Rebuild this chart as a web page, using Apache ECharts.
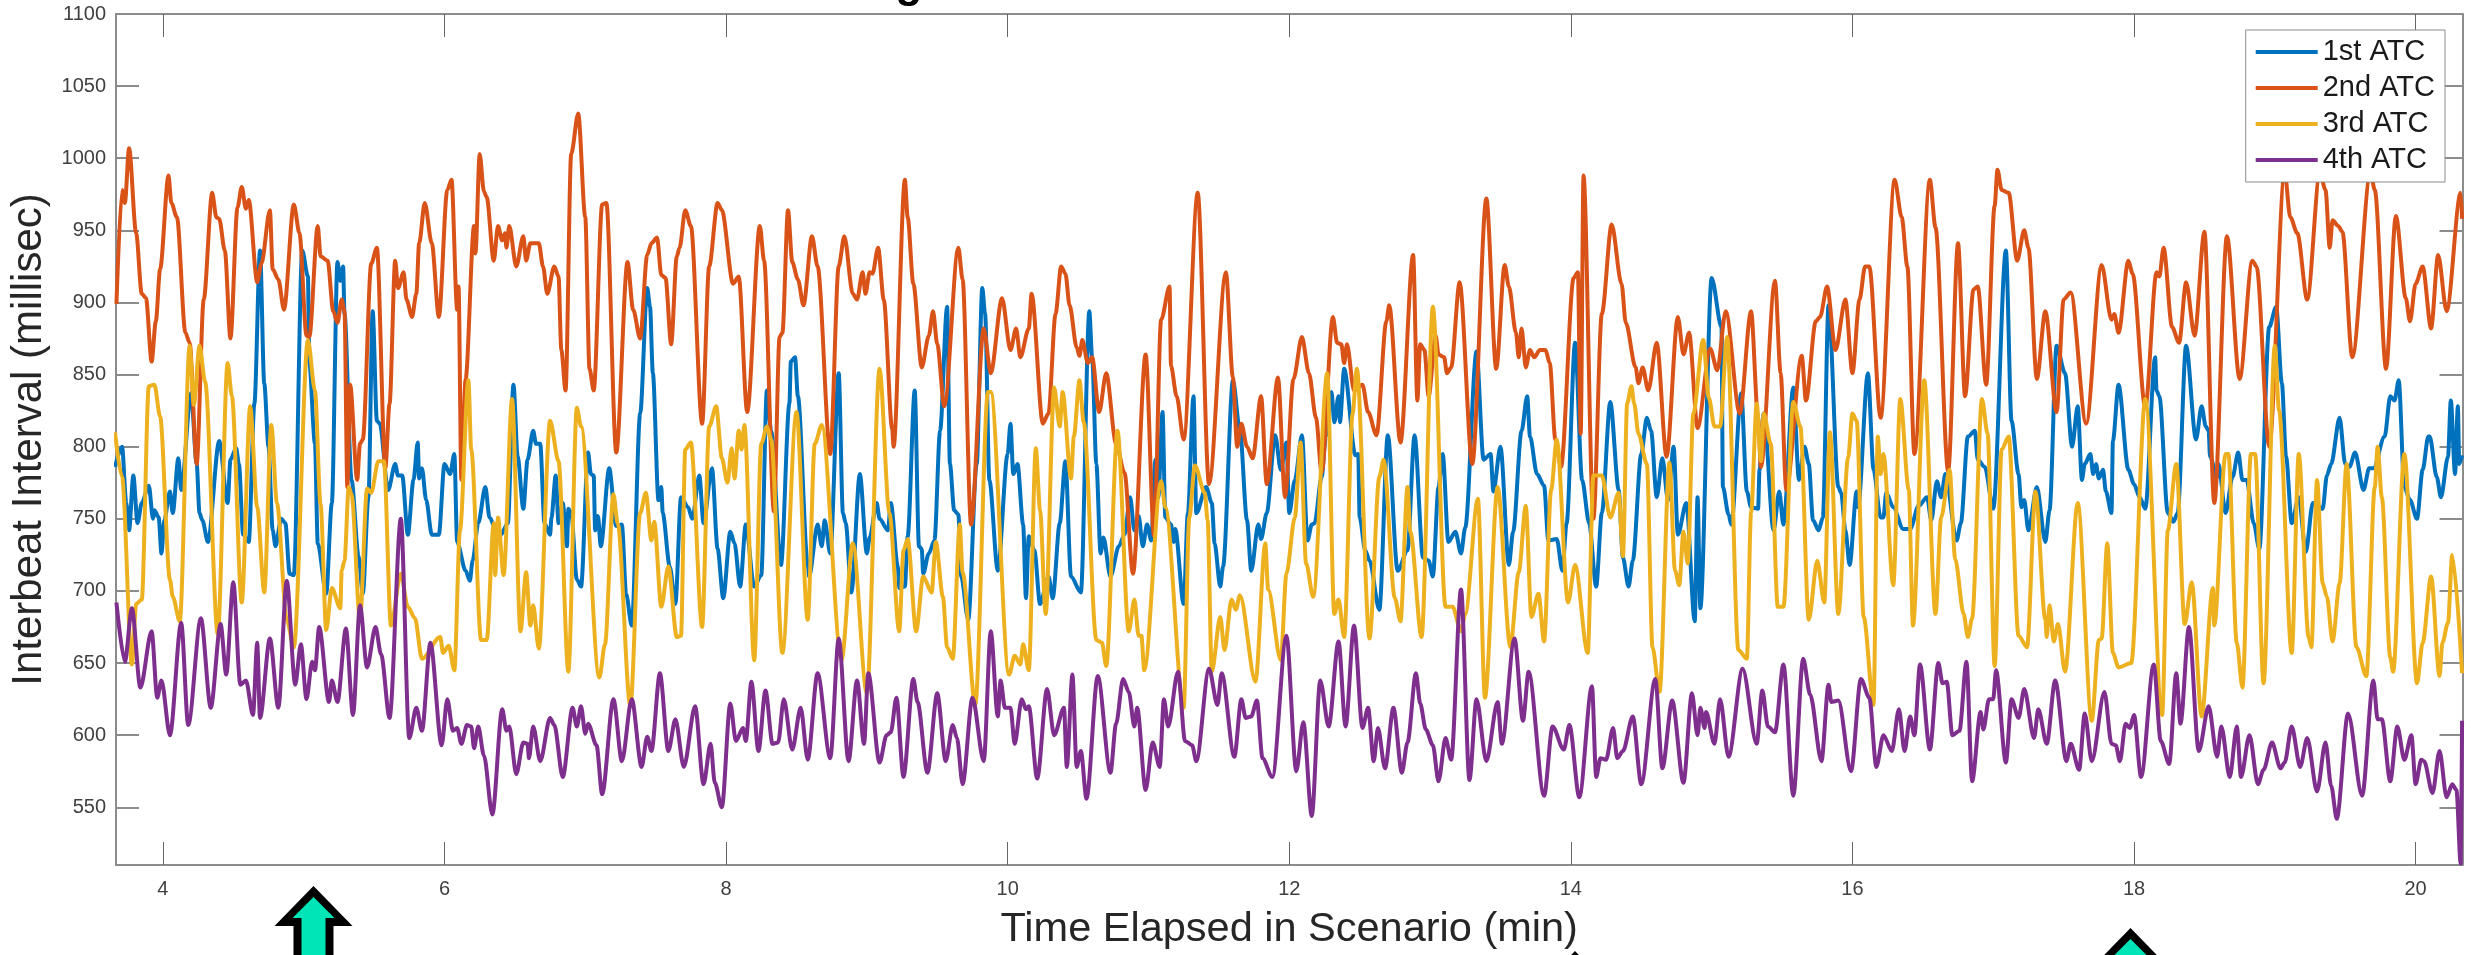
<!DOCTYPE html>
<html>
<head>
<meta charset="utf-8">
<title>Interbeat Interval</title>
<script src="https://cdn.jsdelivr.net/npm/echarts@6/dist/echarts.min.js"></script>
<style>
  html,body{margin:0;padding:0;background:#fff;}
  #chart{width:2471px;height:955px;}
</style>
</head>
<body>
<div id="chart"></div>
<script>
const xTicks = [4,6,8,10,12,14,16,18,20];
const yTicks = [550,600,650,700,750,800,850,900,950,1000,1050,1100];
const seriesNames = ['1st ATC','2nd ATC','3rd ATC','4th ATC'];

// [minutes, millisec] at each turn of the trace
const atc1 = [[3.66,786],[3.71,800],[3.74,761],[3.76,742],[3.79,780],[3.82,747],[3.85,761],[3.90,773],[3.93,750],[3.94,756],[3.97,751],[3.99,726],[4.01,749],[4.05,769],[4.07,754],[4.11,792],[4.13,770],[4.20,837],[4.24,788],[4.26,754],[4.28,749],[4.32,734],[4.40,804],[4.46,761],[4.48,791],[4.52,799],[4.54,788],[4.57,739],[4.61,734],[4.65,830],[4.69,936],[4.72,844],[4.75,800],[4.78,742],[4.80,731],[4.84,750],[4.87,747],[4.90,712],[4.93,711],[4.99,936],[5.03,918],[5.04,858],[5.08,802],[5.10,733],[5.16,698],[5.20,761],[5.24,928],[5.26,915],[5.28,925],[5.29,892],[5.34,777],[5.39,724],[5.42,698],[5.46,765],[5.49,894],[5.52,818],[5.54,816],[5.60,770],[5.65,788],[5.67,780],[5.70,780],[5.74,739],[5.78,777],[5.81,803],[5.82,778],[5.84,785],[5.87,763],[5.91,739],[5.96,739],[6.00,788],[6.04,781],[6.07,795],[6.09,734],[6.15,714],[6.18,707],[6.20,721],[6.24,747],[6.29,772],[6.32,751],[6.36,744],[6.40,739],[6.45,747],[6.49,843],[6.52,793],[6.56,757],[6.59,791],[6.63,811],[6.65,802],[6.68,802],[6.71,747],[6.75,739],[6.76,751],[6.79,780],[6.81,747],[6.84,761],[6.87,731],[6.88,757],[6.90,754],[6.94,708],[6.97,703],[7.02,796],[7.04,781],[7.06,780],[7.07,742],[7.09,752],[7.11,731],[7.17,785],[7.22,745],[7.26,746],[7.29,698],[7.33,676],[7.39,823],[7.44,910],[7.46,897],[7.48,851],[7.52,763],[7.54,772],[7.55,754],[7.60,717],[7.64,691],[7.68,765],[7.73,758],[7.76,750],[7.81,780],[7.84,747],[7.90,785],[7.94,729],[7.98,695],[8.03,741],[8.06,733],[8.10,703],[8.14,746],[8.20,703],[8.25,711],[8.29,839],[8.32,811],[8.39,718],[8.45,830],[8.46,859],[8.49,862],[8.51,835],[8.58,719],[8.59,710],[8.65,746],[8.68,731],[8.70,749],[8.74,726],[8.80,851],[8.83,754],[8.85,747],[8.89,699],[8.95,781],[9.00,726],[9.02,737],[9.07,761],[9.09,750],[9.15,742],[9.17,761],[9.22,717],[9.23,702],[9.27,703],[9.29,738],[9.34,839],[9.37,731],[9.39,729],[9.40,712],[9.44,726],[9.48,735],[9.52,811],[9.57,897],[9.59,788],[9.62,756],[9.65,753],[9.67,710],[9.72,680],[9.78,788],[9.82,910],[9.84,892],[9.87,777],[9.93,714],[10.00,795],[10.02,816],[10.04,781],[10.07,788],[10.11,746],[10.13,695],[10.15,738],[10.19,728],[10.23,691],[10.29,710],[10.32,695],[10.37,747],[10.41,790],[10.45,710],[10.52,699],[10.58,894],[10.60,862],[10.63,788],[10.66,726],[10.68,737],[10.73,710],[10.79,731],[10.83,739],[10.87,765],[10.90,742],[10.93,752],[10.96,731],[10.99,746],[11.02,735],[11.05,791],[11.07,765],[11.10,824],[11.12,751],[11.16,746],[11.18,734],[11.19,743],[11.25,691],[11.28,754],[11.32,835],[11.34,754],[11.41,772],[11.45,761],[11.47,733],[11.51,703],[11.53,717],[11.60,846],[11.65,811],[11.70,749],[11.73,714],[11.78,746],[11.80,736],[11.84,754],[11.90,808],[11.94,784],[11.98,803],[12.00,754],[12.04,777],[12.09,808],[12.13,735],[12.16,746],[12.18,747],[12.23,779],[12.26,807],[12.30,838],[12.32,817],[12.35,835],[12.36,817],[12.39,854],[12.47,794],[12.49,795],[12.50,751],[12.54,728],[12.57,721],[12.64,687],[12.70,808],[12.77,714],[12.84,728],[12.89,808],[12.95,723],[12.99,721],[13.02,710],[13.06,772],[13.09,795],[13.13,734],[13.18,741],[13.22,726],[13.25,744],[13.33,866],[13.38,791],[13.43,795],[13.45,769],[13.50,800],[13.56,718],[13.59,741],[13.65,811],[13.69,835],[13.71,807],[13.76,781],[13.81,773],[13.84,735],[13.90,736],[13.94,714],[13.97,747],[14.03,872],[14.08,777],[14.13,747],[14.18,703],[14.22,754],[14.28,831],[14.34,770],[14.37,723],[14.41,703],[14.44,721],[14.50,795],[14.54,820],[14.57,811],[14.61,765],[14.65,792],[14.69,763],[14.73,800],[14.76,739],[14.82,761],[14.88,679],[14.90,765],[14.92,688],[15.00,917],[15.07,883],[15.08,772],[15.12,753],[15.14,746],[15.21,837],[15.25,769],[15.28,758],[15.33,757],[15.34,784],[15.37,823],[15.44,742],[15.48,769],[15.51,746],[15.58,841],[15.62,777],[15.66,800],[15.69,788],[15.72,749],[15.76,742],[15.79,751],[15.83,898],[15.90,772],[15.92,768],[15.95,742],[15.98,718],[16.03,769],[16.04,758],[16.11,851],[16.15,784],[16.20,751],[16.22,751],[16.24,768],[16.29,758],[16.36,743],[16.41,743],[16.47,759],[16.53,765],[16.56,749],[16.60,776],[16.63,765],[16.66,781],[16.74,735],[16.77,747],[16.82,807],[16.87,811],[16.89,791],[16.94,786],[17.00,757],[17.09,936],[17.13,818],[17.18,781],[17.20,758],[17.22,763],[17.25,742],[17.31,772],[17.37,734],[17.40,756],[17.45,870],[17.51,851],[17.56,800],[17.60,828],[17.63,777],[17.65,788],[17.69,795],[17.71,781],[17.73,788],[17.75,778],[17.78,784],[17.80,769],[17.84,754],[17.85,804],[17.89,843],[17.96,784],[18.00,774],[18.04,765],[18.08,757],[18.15,862],[18.16,839],[18.18,835],[18.24,754],[18.28,748],[18.31,754],[18.37,870],[18.44,805],[18.48,828],[18.51,814],[18.53,811],[18.54,793],[18.59,779],[18.60,788],[18.65,754],[18.70,779],[18.74,796],[18.77,777],[18.80,777],[18.85,747],[18.89,729],[18.96,883],[19.01,897],[19.05,844],[19.08,793],[19.12,747],[19.17,765],[19.22,727],[19.27,761],[19.34,757],[19.37,780],[19.40,788],[19.46,820],[19.50,788],[19.53,786],[19.57,796],[19.63,770],[19.67,785],[19.70,785],[19.78,807],[19.82,835],[19.85,832],[19.88,846],[19.92,772],[19.96,763],[20.01,750],[20.05,784],[20.09,807],[20.10,807],[20.15,779],[20.18,765],[20.23,793],[20.25,832],[20.28,781],[20.30,828],[20.31,788],[20.33,794]];

const atc2 = [[3.67,899],[3.71,978],[3.73,969],[3.76,1007],[3.81,948],[3.85,906],[3.88,903],[3.92,859],[3.95,887],[3.98,923],[4.04,988],[4.06,969],[4.10,959],[4.16,879],[4.19,872],[4.24,788],[4.29,902],[4.35,976],[4.38,959],[4.40,958],[4.44,936],[4.48,875],[4.53,966],[4.56,980],[4.59,965],[4.61,971],[4.67,914],[4.70,927],[4.76,964],[4.78,923],[4.82,916],[4.86,895],[4.93,968],[4.97,948],[5.02,877],[5.04,876],[5.10,953],[5.12,932],[5.17,929],[5.21,894],[5.24,886],[5.27,902],[5.29,894],[5.31,772],[5.33,843],[5.38,777],[5.40,802],[5.42,805],[5.48,927],[5.52,938],[5.58,785],[5.61,830],[5.65,929],[5.67,910],[5.71,921],[5.73,902],[5.77,890],[5.80,906],[5.82,941],[5.86,969],[5.91,941],[5.96,890],[6.02,978],[6.05,985],[6.09,895],[6.10,911],[6.12,777],[6.15,847],[6.21,953],[6.22,934],[6.25,1003],[6.28,977],[6.30,973],[6.35,929],[6.38,953],[6.41,943],[6.43,948],[6.44,938],[6.46,953],[6.51,925],[6.56,946],[6.58,929],[6.61,941],[6.67,941],[6.70,925],[6.73,906],[6.78,925],[6.81,918],[6.83,867],[6.86,839],[6.90,1003],[6.95,1031],[7.00,959],[7.03,854],[7.06,839],[7.12,968],[7.15,969],[7.22,796],[7.30,928],[7.34,895],[7.39,875],[7.44,933],[7.47,941],[7.51,945],[7.54,919],[7.57,917],[7.61,871],[7.65,932],[7.67,938],[7.71,964],[7.75,953],[7.83,816],[7.88,925],[7.94,969],[7.97,964],[8.05,913],[8.09,918],[8.15,824],[8.24,953],[8.27,929],[8.34,755],[8.38,876],[8.40,879],[8.44,964],[8.47,928],[8.51,916],[8.55,898],[8.61,946],[8.65,925],[8.74,795],[8.80,925],[8.84,946],[8.90,906],[8.93,902],[8.97,921],[8.99,906],[9.02,921],[9.04,920],[9.08,938],[9.12,902],[9.18,812],[9.19,800],[9.27,985],[9.29,959],[9.33,913],[9.39,855],[9.44,877],[9.47,894],[9.50,871],[9.55,828],[9.65,938],[9.68,916],[9.74,746],[9.83,882],[9.88,851],[9.96,903],[10.02,867],[10.06,882],[10.09,862],[10.15,882],[10.17,906],[10.25,816],[10.29,823],[10.34,892],[10.38,925],[10.41,920],[10.44,898],[10.49,869],[10.51,863],[10.53,874],[10.57,858],[10.60,862],[10.65,824],[10.70,851],[10.77,802],[10.83,782],[10.89,712],[10.98,864],[11.04,738],[11.09,888],[11.15,911],[11.16,856],[11.20,835],[11.25,805],[11.35,976],[11.43,774],[11.55,921],[11.60,848],[11.63,800],[11.66,816],[11.70,800],[11.74,792],[11.80,835],[11.84,774],[11.92,848],[11.97,765],[12.03,847],[12.09,876],[12.14,851],[12.19,820],[12.23,782],[12.31,890],[12.34,872],[12.37,871],[12.39,858],[12.41,871],[12.46,839],[12.52,843],[12.56,824],[12.62,808],[12.69,887],[12.71,898],[12.79,803],[12.88,933],[12.91,832],[12.93,871],[12.96,867],[12.99,835],[13.04,877],[13.06,864],[13.10,862],[13.12,851],[13.15,855],[13.21,914],[13.30,788],[13.40,972],[13.47,854],[13.53,926],[13.56,911],[13.61,879],[13.63,862],[13.65,882],[13.68,855],[13.71,867],[13.74,862],[13.78,867],[13.82,867],[13.85,858],[13.89,805],[13.93,786],[14.02,917],[14.05,921],[14.07,809],[14.09,988],[14.16,750],[14.22,892],[14.29,954],[14.36,913],[14.39,886],[14.46,855],[14.48,844],[14.51,855],[14.55,839],[14.61,872],[14.68,793],[14.76,890],[14.80,864],[14.84,879],[14.90,813],[14.99,868],[15.04,853],[15.10,894],[15.20,823],[15.28,894],[15.33,820],[15.35,786],[15.45,915],[15.49,851],[15.53,770],[15.64,863],[15.67,832],[15.74,887],[15.77,890],[15.82,911],[15.88,867],[15.95,902],[16.00,851],[16.05,902],[16.09,925],[16.12,925],[16.20,820],[16.30,985],[16.35,959],[16.39,925],[16.44,795],[16.55,985],[16.59,952],[16.68,783],[16.75,941],[16.80,835],[16.86,909],[16.89,911],[16.95,843],[17.01,967],[17.03,992],[17.06,978],[17.11,976],[17.17,929],[17.22,950],[17.25,938],[17.31,847],[17.37,894],[17.45,824],[17.50,902],[17.55,907],[17.66,816],[17.77,926],[17.84,888],[17.86,892],[17.89,879],[17.96,929],[17.99,920],[18.08,827],[18.16,921],[18.18,918],[18.21,938],[18.27,883],[18.32,872],[18.37,914],[18.43,877],[18.50,949],[18.57,761],[18.66,946],[18.75,847],[18.84,929],[18.87,925],[18.96,800],[19.07,990],[19.11,959],[19.16,948],[19.23,902],[19.32,990],[19.36,978],[19.39,938],[19.41,957],[19.45,953],[19.48,949],[19.55,862],[19.68,990],[19.71,978],[19.79,854],[19.86,960],[19.93,903],[19.96,887],[20.00,913],[20.05,925],[20.11,882],[20.16,933],[20.22,894],[20.32,976],[20.33,958]];

const atc3 = [[3.66,810],[3.71,779],[3.78,649],[3.81,691],[3.85,694],[3.90,842],[3.94,843],[3.98,821],[4.05,708],[4.07,696],[4.12,679],[4.19,870],[4.22,829],[4.26,870],[4.30,845],[4.39,670],[4.46,858],[4.49,835],[4.56,692],[4.62,828],[4.67,758],[4.72,699],[4.77,815],[4.81,761],[4.88,680],[4.93,661],[5.03,874],[5.08,839],[5.12,760],[5.16,673],[5.20,702],[5.26,688],[5.27,714],[5.29,721],[5.32,772],[5.34,767],[5.40,680],[5.45,771],[5.48,768],[5.53,790],[5.57,790],[5.62,676],[5.69,712],[5.74,689],[5.79,681],[5.84,653],[5.97,668],[5.99,657],[6.03,662],[6.07,645],[6.11,742],[6.17,846],[6.19,798],[6.26,666],[6.30,666],[6.35,747],[6.36,711],[6.38,751],[6.42,711],[6.48,833],[6.54,672],[6.58,713],[6.61,676],[6.63,690],[6.67,660],[6.75,818],[6.81,790],[6.88,644],[6.94,827],[6.97,814],[7.10,640],[7.14,663],[7.20,767],[7.23,747],[7.32,620],[7.39,754],[7.43,768],[7.47,735],[7.49,748],[7.54,689],[7.59,717],[7.65,668],[7.68,669],[7.71,798],[7.75,803],[7.83,675],[7.88,814],[7.93,828],[7.97,792],[8.01,775],[8.04,799],[8.06,778],[8.09,811],[8.11,798],[8.13,815],[8.20,652],[8.25,802],[8.29,814],[8.32,805],[8.40,657],[8.50,824],[8.58,680],[8.63,802],[8.68,815],[8.82,652],[8.90,733],[9.00,629],[9.09,854],[9.16,754],[9.23,672],[9.26,728],[9.29,736],[9.35,672],[9.40,710],[9.46,699],[9.49,734],[9.54,696],[9.57,661],[9.61,653],[9.66,746],[9.68,713],[9.77,621],[9.86,838],[9.88,838],[10.01,642],[10.05,655],[10.09,649],[10.11,663],[10.15,645],[10.20,799],[10.23,756],[10.27,684],[10.33,841],[10.37,814],[10.39,838],[10.45,778],[10.47,807],[10.51,846],[10.54,817],[10.63,666],[10.67,664],[10.70,648],[10.78,811],[10.86,672],[10.90,694],[10.93,669],[10.95,669],[10.97,645],[11.09,776],[11.12,758],[11.25,619],[11.29,751],[11.33,787],[11.40,768],[11.42,749],[11.45,644],[11.51,682],[11.54,659],[11.59,694],[11.62,687],[11.65,697],[11.76,637],[11.83,733],[11.85,701],[11.94,652],[11.98,712],[12.04,751],[12.08,803],[12.12,719],[12.17,696],[12.27,851],[12.32,684],[12.35,694],[12.39,668],[12.45,823],[12.48,854],[12.57,667],[12.64,779],[12.67,791],[12.75,695],[12.79,679],[12.84,772],[12.86,741],[12.94,668],[13.02,897],[13.11,689],[13.16,689],[13.22,672],[13.25,684],[13.34,764],[13.39,626],[13.48,772],[13.57,661],[13.63,713],[13.68,759],[13.72,682],[13.77,698],[13.81,665],[13.86,770],[13.90,805],[13.98,692],[14.03,718],[14.12,657],[14.16,780],[14.22,780],[14.28,751],[14.34,768],[14.37,724],[14.40,830],[14.43,842],[14.45,830],[14.48,809],[14.54,788],[14.58,661],[14.63,630],[14.70,789],[14.74,714],[14.77,704],[14.80,741],[14.83,719],[14.87,823],[14.94,874],[14.98,834],[15.02,814],[15.06,814],[15.11,876],[15.19,659],[15.25,653],[15.28,754],[15.32,830],[15.35,790],[15.37,823],[15.42,802],[15.47,689],[15.51,689],[15.58,831],[15.63,814],[15.69,680],[15.75,721],[15.80,692],[15.84,810],[15.90,684],[15.97,793],[16.00,823],[16.03,818],[16.08,682],[16.15,621],[16.18,807],[16.20,781],[16.22,795],[16.29,704],[16.34,833],[16.40,770],[16.43,676],[16.51,846],[16.59,684],[16.63,751],[16.69,784],[16.73,722],[16.79,684],[16.82,668],[16.85,681],[16.92,833],[16.96,809],[17.01,648],[17.06,798],[17.11,807],[17.18,669],[17.24,661],[17.30,769],[17.37,680],[17.38,668],[17.40,690],[17.43,665],[17.46,677],[17.51,644],[17.60,761],[17.70,610],[17.75,666],[17.77,667],[17.81,733],[17.85,657],[17.89,647],[17.98,650],[18.08,833],[18.20,614],[18.24,742],[18.30,788],[18.36,677],[18.41,706],[18.48,613],[18.56,702],[18.57,676],[18.65,795],[18.67,795],[18.73,664],[18.77,633],[18.83,795],[18.86,795],[18.92,636],[19.00,870],[19.03,825],[19.12,657],[19.17,795],[19.24,668],[19.26,661],[19.30,777],[19.34,705],[19.37,696],[19.41,665],[19.46,705],[19.51,788],[19.58,661],[19.65,641],[19.71,772],[19.73,800],[19.76,765],[19.82,654],[19.84,644],[19.92,795],[20.01,636],[20.05,664],[20.11,710],[20.17,641],[20.19,664],[20.23,678],[20.26,725],[20.33,643]];

const atc4 = [[3.67,692],[3.73,651],[3.78,688],[3.84,633],[3.92,672],[3.96,626],[3.99,638],[4.05,600],[4.13,678],[4.18,607],[4.27,681],[4.34,619],[4.41,677],[4.45,642],[4.50,706],[4.55,635],[4.59,638],[4.64,614],[4.67,664],[4.69,612],[4.76,667],[4.82,619],[4.88,707],[4.94,635],[4.98,663],[5.02,625],[5.06,651],[5.08,645],[5.11,675],[5.18,623],[5.20,638],[5.24,623],[5.30,674],[5.35,614],[5.40,690],[5.45,647],[5.51,675],[5.55,656],[5.61,612],[5.69,750],[5.75,598],[5.80,619],[5.84,603],[5.90,664],[5.98,593],[6.02,625],[6.06,603],[6.09,605],[6.12,594],[6.16,607],[6.19,606],[6.21,591],[6.24,606],[6.28,586],[6.34,545],[6.41,618],[6.44,603],[6.46,606],[6.51,573],[6.56,595],[6.59,594],[6.60,584],[6.63,606],[6.68,582],[6.75,612],[6.78,607],[6.84,571],[6.91,619],[6.94,606],[6.97,620],[7.00,601],[7.02,608],[7.08,593],[7.12,559],[7.20,625],[7.26,582],[7.33,625],[7.40,578],[7.44,599],[7.47,589],[7.53,643],[7.59,589],[7.64,611],[7.70,578],[7.78,620],[7.84,566],[7.89,594],[7.92,567],[7.97,550],[8.03,622],[8.07,596],[8.12,605],[8.14,596],[8.18,637],[8.23,589],[8.28,631],[8.33,594],[8.37,595],[8.41,625],[8.47,590],[8.53,619],[8.58,583],[8.65,643],[8.74,584],[8.80,667],[8.87,582],[8.93,638],[8.98,594],[9.01,643],[9.09,581],[9.14,600],[9.17,602],[9.21,626],[9.26,571],[9.33,639],[9.36,623],[9.43,574],[9.50,629],[9.56,582],[9.61,607],[9.64,598],[9.68,566],[9.75,626],[9.83,582],[9.88,672],[9.93,613],[9.95,638],[9.98,619],[10.02,619],[10.05,594],[10.10,625],[10.13,618],[10.15,620],[10.21,570],[10.28,632],[10.33,600],[10.40,619],[10.42,578],[10.46,642],[10.49,578],[10.52,589],[10.56,556],[10.64,641],[10.73,574],[10.77,608],[10.82,639],[10.86,630],[10.90,606],[10.92,619],[10.98,562],[11.03,595],[11.08,578],[11.11,625],[11.14,606],[11.21,644],[11.26,596],[11.31,593],[11.34,582],[11.43,646],[11.49,621],[11.52,643],[11.61,585],[11.66,625],[11.69,612],[11.73,613],[11.77,624],[11.81,584],[11.88,571],[11.98,669],[12.05,575],[12.10,609],[12.16,544],[12.22,638],[12.28,606],[12.35,665],[12.40,606],[12.46,676],[12.52,605],[12.56,619],[12.60,582],[12.63,605],[12.68,577],[12.74,619],[12.80,574],[12.84,595],[12.90,643],[12.93,622],[12.97,604],[13.02,593],[13.06,568],[13.11,598],[13.15,583],[13.22,701],[13.28,569],[13.33,625],[13.40,582],[13.48,623],[13.51,594],[13.60,667],[13.66,610],[13.70,644],[13.81,558],[13.87,606],[13.95,590],[13.99,607],[14.06,557],[14.15,634],[14.18,571],[14.21,584],[14.25,583],[14.30,605],[14.33,584],[14.37,589],[14.44,613],[14.50,566],[14.60,639],[14.65,577],[14.72,624],[14.80,567],[14.86,629],[14.90,600],[14.92,619],[14.95,605],[14.96,616],[15.02,594],[15.06,625],[15.12,585],[15.22,646],[15.32,594],[15.36,631],[15.40,606],[15.45,602],[15.51,649],[15.58,558],[15.65,653],[15.70,628],[15.78,582],[15.83,635],[15.85,623],[15.90,624],[15.99,575],[16.06,639],[16.12,626],[16.17,578],[16.22,600],[16.28,589],[16.33,618],[16.37,589],[16.41,613],[16.44,600],[16.48,649],[16.55,590],[16.61,650],[16.64,636],[16.67,637],[16.71,600],[16.76,603],[16.81,651],[16.85,568],[16.91,616],[16.93,604],[16.97,625],[17.00,625],[17.02,645],[17.09,581],[17.13,625],[17.18,612],[17.22,632],[17.29,598],[17.32,618],[17.38,594],[17.44,638],[17.52,582],[17.55,594],[17.61,576],[17.65,615],[17.70,582],[17.79,630],[17.84,594],[17.87,593],[17.90,582],[17.94,608],[17.97,605],[18.00,614],[18.05,571],[18.14,649],[18.19,596],[18.25,580],[18.30,643],[18.33,608],[18.39,675],[18.46,589],[18.53,620],[18.59,585],[18.62,606],[18.68,571],[18.73,606],[18.76,571],[18.82,600],[18.88,566],[18.92,576],[18.98,595],[19.04,577],[19.07,581],[19.12,606],[19.18,578],[19.23,598],[19.30,561],[19.36,595],[19.40,565],[19.44,542],[19.52,615],[19.62,558],[19.70,638],[19.73,611],[19.76,611],[19.82,568],[19.87,606],[19.92,583],[19.97,600],[20.00,566],[20.04,583],[20.06,582],[20.12,560],[20.17,589],[20.22,557],[20.26,566],[20.29,562],[20.32,511],[20.33,610]];

const seriesValues = [atc1,atc2,atc3,atc4];
const seriesColors = ['#0072BD','#D95319','#EDB120','#7E2F8E'];
const xMin = 3.667, xMax = 20.333, yMin = 510, yMax = 1100;

const labelColor = '#404040';
const axisColor = '#8c8c8c';

// the hand-drawn arrows pasted under the plot
function arrow(x, y){
  return {
    type:'group', x:x, y:y, silent:true,
    children:[
      {type:'polygon', shape:{points:[[0,0],[39,40],[20,40],[20,110],[-20,110],[-20,40],[-39,40]]}, style:{fill:'#000'}},
      {type:'polygon', shape:{points:[[0,11],[21,32],[12,32],[12,110],[-12,110],[-12,32],[-21,32]]}, style:{fill:'#00E5B8'}}
    ]
  };
}

const boxAxis = (extra) => Object.assign({
  type:'value',
  axisLine:{show:true, lineStyle:{color:axisColor, width:2}},
  axisLabel:{show:false},
  splitLine:{show:false}
}, extra);

const myChart = echarts.init(document.getElementById('chart'));
myChart.setOption({
  animation:false,
  backgroundColor:'#fff',
  textStyle:{fontFamily:'"Liberation Sans", Arial, sans-serif'},
  grid:{left:116, right:8.5, top:14, bottom:90, containLabel:false, outerBoundsMode:'none'},
  legend:{
    orient:'vertical', right:26, top:30,
    padding:[7,10,7,10],
    icon:'rect',
    itemWidth:62, itemHeight:4, itemGap:6,
    backgroundColor:'#fff', borderColor:'#8c8c8c', borderWidth:1,
    selectedMode:false,
    textStyle:{fontSize:29, lineHeight:30, color:'#1a1a1a'},
    data:seriesNames
  },
  xAxis:[
    boxAxis({
      min:xMin, max:xMax, position:'bottom',
      name:'Time Elapsed in Scenario (min)', nameLocation:'middle', nameGap:44,
      nameTextStyle:{fontSize:41.5, color:'#262626'},
      axisTick:{inside:true, length:23, customValues:xTicks, lineStyle:{color:'#666', width:1}},
      axisLabel:{show:true, customValues:xTicks, margin:14, fontSize:20, color:labelColor}
    }),
    boxAxis({
      min:xMin, max:xMax, position:'top',
      axisTick:{inside:true, length:23, customValues:xTicks, lineStyle:{color:'#666', width:1}}
    })
  ],
  yAxis:[
    boxAxis({
      min:yMin, max:yMax, position:'left',
      name:'Interbeat Interval (millisec)', nameLocation:'middle', nameGap:56,
      nameTextStyle:{fontSize:42, color:'#262626'},
      axisTick:{inside:true, length:23, customValues:yTicks, lineStyle:{color:'#8c8c8c', width:2}},
      axisLabel:{show:true, customValues:yTicks, margin:10, fontSize:20, color:labelColor, formatter:(v)=>String(v)}
    }),
    boxAxis({
      min:yMin, max:yMax, position:'right',
      axisTick:{inside:true, length:23, customValues:yTicks, lineStyle:{color:'#8c8c8c', width:2}}
    })
  ],
  series:seriesNames.map((name,i)=>({
    name:name,
    type:'line',
    data:seriesValues[i],
    showSymbol:false,
    symbol:'none',
    smooth:0.3,
    smoothMonotone:'x',
    clip:true,
    itemStyle:{color:seriesColors[i]},
    lineStyle:{width:4, color:seriesColors[i], join:'round'}
  })),
  graphic:[
    arrow(313.5,886), arrow(2130.5,928), arrow(1575,951),
    // only the tail of the cropped-off title's g shows at the top edge
    {type:'text', x:909, y:7, silent:true, style:{text:'g', font:'bold 44px "Liberation Sans"', fill:'#000', align:'center', verticalAlign:'bottom'}}
  ]
});

window.addEventListener('resize', function(){ myChart.resize(); });
</script>
</body>
</html>
